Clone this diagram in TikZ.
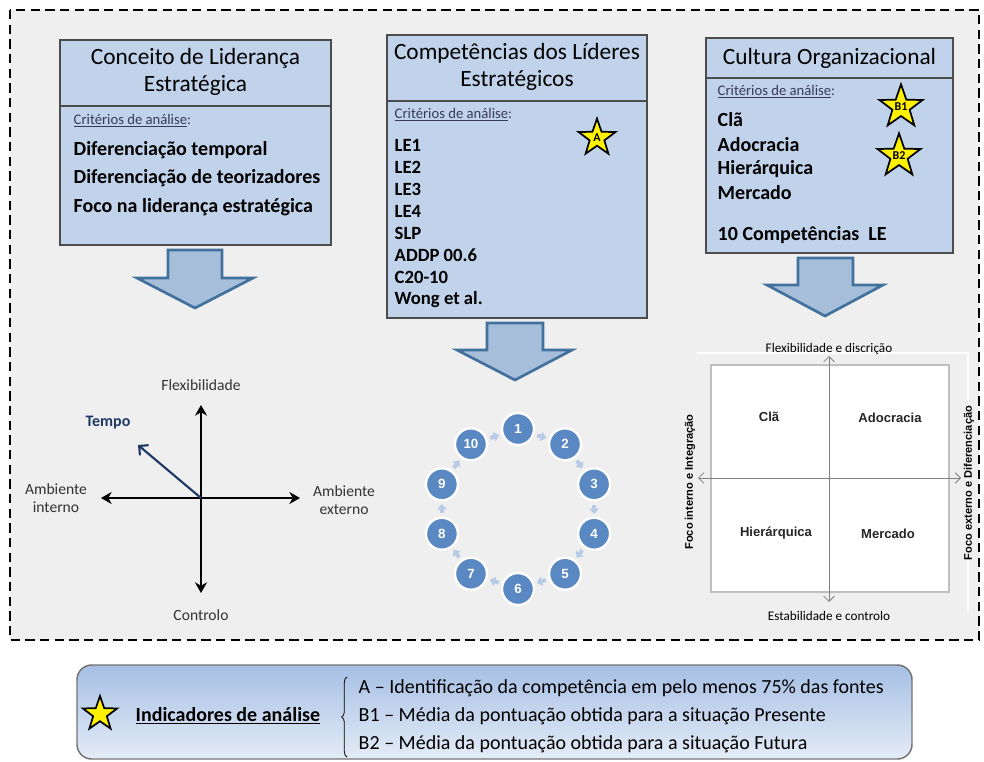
\documentclass[tikz,border=0pt]{standalone}
\usepackage{fontspec}
\setmainfont{Carlito}
\newfontfamily\arialfont{Liberation Sans}
\usetikzlibrary{shapes.geometric,arrows.meta,calc,decorations.pathreplacing}

\definecolor{panelblue}{HTML}{C0D3EA}
\definecolor{arrowfill}{HTML}{A7BEDA}
\definecolor{arrowline}{HTML}{41719C}
\definecolor{dotblue}{HTML}{5A88C2}
\definecolor{stepblue}{HTML}{B7CBE6}
\definecolor{tempoblue}{HTML}{1F3864}
\definecolor{framegray}{HTML}{EFEFEF}
\definecolor{crittext}{HTML}{3A3A5A}
\definecolor{legtop}{HTML}{A6BFE4}
\definecolor{legbot}{HTML}{E4ECF7}

\begin{document}
\begin{tikzpicture}[x=0.75pt,y=-0.75pt,
  panel/.style={fill=panelblue,draw=black!70,line width=1.1pt},
  bigarrow/.style={fill=arrowfill,draw=arrowline,line width=2pt,line join=miter},
  title/.style={align=center,font=\fontsize{17.5}{20}\selectfont},
  crit/.style={anchor=west,text=crittext,font=\fontsize{11}{13}\selectfont},
  item/.style={anchor=west,font=\fontsize{15}{18}\selectfont\bfseries},
  smallitem/.style={anchor=west,font=\fontsize{14}{16}\selectfont\bfseries},
  badge/.style={star,star points=5,star point ratio=2.5,draw=black,line width=1.3pt,
    fill=yellow,minimum size=29pt,inner sep=0pt,font=\fontsize{9}{9}\selectfont\bfseries},
  axis/.style={line width=2pt,{Stealth[length=8pt,width=9pt]}-{Stealth[length=8pt,width=9pt]}},
  axlabel/.style={align=center,font=\fontsize{11.7}{13.5}\selectfont,text=black!80},
  numdot/.style={circle,fill=dotblue,draw=white,line width=1.8pt,minimum size=24pt,
    inner sep=0pt,text=white,font=\arialfont\fontsize{10}{10}\selectfont\bfseries},
  steparrow/.style={stepblue,line width=3pt,-{Triangle[width=7pt,length=4pt]}},
  quadaxis/.style={black!50,line width=0.6pt,
    {Straight Barb[length=4pt,width=8pt]}-{Straight Barb[length=4pt,width=8pt]}},
  quadname/.style={font=\arialfont\fontsize{9.8}{10}\selectfont\bfseries,text=black!85},
  quadedge/.style={font=\fontsize{9.9}{10}\selectfont},
  quadside/.style={rotate=90,font=\arialfont\fontsize{8.3}{9}\selectfont\bfseries},
  legline/.style={anchor=west,font=\fontsize{15}{18}\selectfont}]

  \useasboundingbox (0,0) rectangle (984,761);

  % dashed frame
  \draw[fill=framegray,line width=2.2pt,dash pattern=on 7pt off 4pt] (10,10) rectangle (979,640);

  % panel 1
  \draw[panel] (60,40) rectangle (331,245);
  \draw[panel] (60,106) -- (331,106);
  \node[title] (t1) at (195.5,72) {Conceito de Liderança\\Estratégica};
  \node[crit] (c1) at (69,121) {\underline{Critérios de análise}:};
  \node[item] (p1a) at (69,150) {Diferenciação temporal};
  \node[item] (p1b) at (69,178) {Diferenciação de teorizadores};
  \node[item] (p1c) at (69,207) {Foco na liderança estratégica};

  % panel 2
  \draw[panel] (387,35) rectangle (647,318);
  \draw[panel] (387,101) -- (647,101);
  \node[title] (t2) at (517,67) {Competências dos Líderes\\Estratégicos};
  \node[crit] (c2) at (390,115) {\underline{Critérios de análise}:};
  \foreach \txt [count=\k] in {LE1,LE2,LE3,LE4,SLP,ADDP 00.6,C20-10,Wong et al.}
    \node[smallitem] (le\k) at (390,{145+22.1*(\k-1)}) {\txt};
  \node[badge] (sa) at (597,138) {A};

  % panel 3
  \draw[panel] (706,38) rectangle (953,253);
  \draw[panel] (706,78) -- (953,78);
  \node[title] (t3) at (829.5,58) {Cultura Organizacional};
  \node[crit] (c3) at (713,92) {\underline{Critérios de análise}:};
  \node[item] (ca) at (713,120) {Clã};
  \node[item] (cb) at (713,145) {Adocracia};
  \node[item] (cc) at (713,169) {Hierárquica};
  \node[item] (cd) at (713,193) {Mercado};
  \node[item] (ce) at (713,235) {10 Competências\ \ LE};
  \node[badge] (sb1) at (901,107) {B1};
  \node[badge] (sb2) at (899,156) {B2};

  % block arrows
  \draw[bigarrow] (168,250) -- (222,250) -- (222,278) -- (253,278) -- (195,308)
    -- (137,278) -- (168,278) -- cycle;
  \draw[bigarrow] (487,323) -- (543,323) -- (543,350) -- (572,350) -- (515,380)
    -- (457,350) -- (487,350) -- cycle;
  \draw[bigarrow] (798,258) -- (853,258) -- (853,285) -- (883,285) -- (825,316)
    -- (767,285) -- (798,285) -- cycle;

  % axes of leadership
  \coordinate (o) at (201,498);
  \coordinate (vtop) at (201,405);
  \coordinate (vbot) at (201,593);
  \coordinate (hleft) at (101,498);
  \coordinate (hright) at (300,498);
  \coordinate (tend) at (138,445);
  \draw[axis] (vtop) -- (vbot);
  \draw[axis] (hleft) -- (hright);
  \draw[tempoblue,line width=1.6pt,-{Straight Barb[length=5pt,width=10pt]}] (o) -- (tend);
  \node[axlabel] (flex) at (201,385) {Flexibilidade};
  \node[axlabel] (ctrl) at (201,615) {Controlo};
  \node[axlabel] (amin) at (56,498) {Ambiente\\interno};
  \node[axlabel] (amex) at (344,500) {Ambiente\\externo};
  \node[text=tempoblue,font=\fontsize{12}{14}\selectfont\bfseries] (tempo) at (108,423) {Tempo};

  % ten competences
  \foreach \i in {1,...,10}
    \node[numdot] (d\i) at ({518+80*cos(90-36*(\i-1))},{509-80*sin(90-36*(\i-1))}) {\i};
  \foreach \i [evaluate=\i as \j using {int(mod(\i,10)+1)}] in {1,...,10}
    \draw[steparrow] ($(d\i)!0.41!(d\j)$) -- ($(d\i)!0.6!(d\j)$);

  % competing values
  \draw[white,line width=0.8pt] (697,353) -- (968,353) -- (968,611);
  \draw[fill=white,draw=black!25,line width=0.8pt] (711,365) rectangle (949,592);
  \coordinate (qtop) at (829,356);
  \coordinate (qbot) at (829,602);
  \coordinate (qleft) at (698,478);
  \coordinate (qright) at (961,478);
  \draw[quadaxis] (qtop) -- (qbot);
  \draw[quadaxis] (qleft) -- (qright);
  \node[quadname] (qa) at (769,417) {Clã};
  \node[quadname] (qb) at (890,418) {Adocracia};
  \node[quadname] (qc) at (776,533) {Hierárquica};
  \node[quadname] (qd) at (888,534) {Mercado};
  \node[quadedge] (qn) at (829,349) {Flexibilidade e discrição};
  \node[quadedge] (qs) at (829,616) {Estabilidade e controlo};
  \node[quadside] (qw) at (690,482) {Foco interno e Integração};
  \node[quadside] (qe) at (969,483) {Foco externo e Diferenciação};

  % legend
  \draw[top color=legtop,bottom color=legbot,draw=black!55,line width=1.1pt,
    rounded corners=11pt] (77,665) rectangle (912,759);
  \node[badge,minimum size=27pt] (sl) at (100,714) {};
  \node[anchor=west,font=\fontsize{15}{18}\selectfont\bfseries] (ind) at (131,716)
    {\underline{Indicadores de análise}};
  \coordinate (bb) at (347,757);
  \coordinate (bt) at (347,677);
  \draw[line width=0.6pt,decorate,decoration={brace,amplitude=4pt}] (bb) -- (bt);
  \node[legline] (la) at (354,688) {A – Identificação da competência em pelo menos 75\% das fontes};
  \node[legline] (lb) at (354,716) {B1 – Média da pontuação obtida para a situação Presente};
  \node[legline] (lc) at (354,744) {B2 – Média da pontuação obtida para a situação Futura};
\end{tikzpicture}
\end{document}
